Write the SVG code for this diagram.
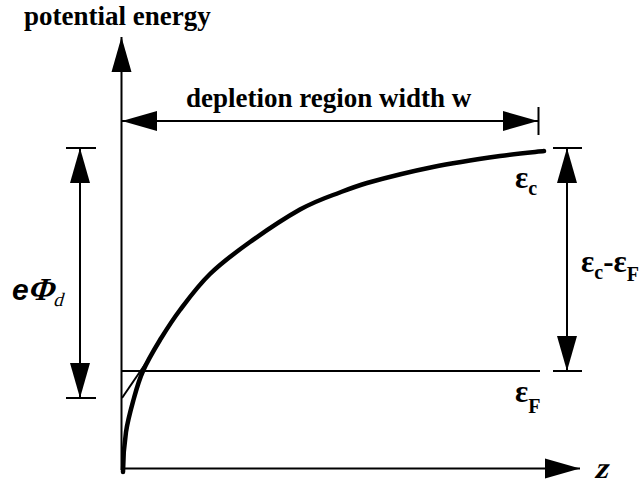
<svg xmlns="http://www.w3.org/2000/svg" width="642" height="486" viewBox="0 0 642 486">
  <style>
    .ln { stroke: #000; stroke-width: 2; fill: none; }
    .thick { stroke: #000; stroke-width: 4.5; fill: none; stroke-linecap: round; }
    .lbl { font-family: 'Liberation Serif', 'Times New Roman', serif; font-weight: bold; fill: #000; }
  </style>
  <defs>
    <marker id="ah" markerUnits="userSpaceOnUse" markerWidth="36" markerHeight="22" refX="35" refY="10" orient="auto-start-reverse" viewBox="0 0 36 20">
      <path d="M0,0 L35,10 L0,20 Z" fill="#000"/>
    </marker>
  </defs>
  <rect width="642" height="486" fill="#fff"/>

  <g id="connectors">
    <line id="y-axis" class="ln" x1="121.5" y1="470" x2="121.5" y2="37" marker-end="url(#ah)"/>
    <line id="x-axis" class="ln" x1="121" y1="468.5" x2="580" y2="468.5" marker-end="url(#ah)"/>
    <line class="ln" x1="122" y1="121" x2="538" y2="121" marker-start="url(#ah)" marker-end="url(#ah)"/>
    <line class="ln" x1="538.5" y1="107" x2="538.5" y2="135"/>
    <line class="ln" x1="66" y1="148" x2="96" y2="148"/>
    <line class="ln" x1="66" y1="398" x2="96" y2="398"/>
    <line class="ln" x1="80" y1="148" x2="80" y2="398" marker-start="url(#ah)" marker-end="url(#ah)"/>
    <line class="ln" x1="553" y1="148" x2="582" y2="148"/>
    <line class="ln" x1="553" y1="371" x2="582" y2="371"/>
    <line class="ln" x1="567" y1="148" x2="567" y2="371" marker-start="url(#ah)" marker-end="url(#ah)"/>
    <line id="fermi" class="ln" x1="121" y1="371" x2="540" y2="371"/>
    <line class="ln" x1="122" y1="398" x2="150" y2="357"/>
  </g>

  <g id="band-curve">
    <path class="thick" d="M123,472 C123,458 124.2,444.3 126,432 C127.8,419.7 131.2,408.2 134,398 C136.8,387.8 138.7,380.7 143,371 C147.3,361.3 153.8,350.2 160,340 C166.2,330 171.7,321 180,310 C188.3,299 198.3,285.3 210,274 C221.7,262.7 235,252.7 250,242 C265,231.3 284,218.5 300,209.5 C314,202 322,199 333,195 C344,191 352,187.5 367,183 C384.2,178.2 410.8,171.5 433,167 C455.2,162.5 481.3,158.7 500,156 C518.7,153.3 537.5,151.8 544,151"/>
  </g>

  <g id="labels">
    <text class="lbl" x="24" y="25" font-size="27">potential energy</text>
    <text class="lbl" x="186" y="107" font-size="27">depletion region width w</text>
    <g id="label-ephid">
      <text x="12" y="300" font-family="'Liberation Sans', Arial, sans-serif" font-weight="bold" font-style="italic" font-size="30" fill="#000">e</text>
      <text class="lbl" transform="translate(27,300) skewX(-16)" font-size="32">Φ</text>
      <text transform="translate(53,306) skewX(-16)" font-family="'Liberation Serif', 'Times New Roman', serif" font-size="19" fill="#000">d</text>
    </g>
    <text class="lbl" x="515" y="188" font-size="31">ε<tspan font-size="20" dy="7">c</tspan></text>
    <text class="lbl" x="581" y="272" font-size="31">ε<tspan font-size="20" dy="7">c</tspan><tspan dy="-7">-</tspan>ε<tspan font-size="20" dy="9">F</tspan></text>
    <text class="lbl" x="515" y="402" font-size="31">ε<tspan font-size="20" dy="11">F</tspan></text>
    <text class="lbl" transform="translate(594,478) skewX(-16)" font-size="30">z</text>
  </g>
</svg>
